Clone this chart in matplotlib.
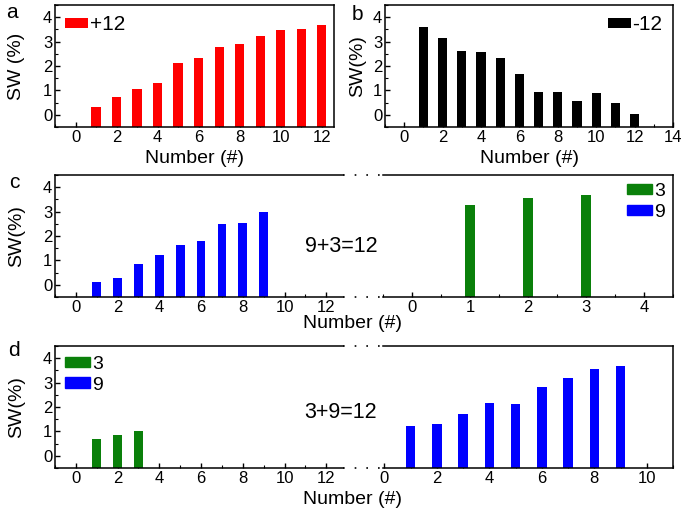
import matplotlib
matplotlib.use('Agg')
import matplotlib.pyplot as plt
from matplotlib.lines import Line2D
from matplotlib.patches import Patch
from matplotlib.ticker import MultipleLocator

plt.rcParams['font.family'] = ['Liberation Sans', 'DejaVu Sans']
plt.rcParams['xtick.direction'] = 'in'
plt.rcParams['ytick.direction'] = 'in'
plt.rcParams['axes.linewidth'] = 1.1

# data
num12 = list(range(1, 13))
sw_plus12 = [0.34, 0.73, 1.05, 1.30, 2.12, 2.32, 2.77, 2.90, 3.22, 3.47, 3.53, 3.70]
sw_minus12 = [3.59, 3.14, 2.63, 2.59, 2.32, 1.66, 0.95, 0.95, 0.55, 0.88, 0.48, 0.02]

num9 = list(range(1, 10))
num3 = [1, 2, 3]
c_sw9 = [0.11, 0.27, 0.87, 1.22, 1.63, 1.80, 2.48, 2.55, 3.00]
c_sw3 = [3.27, 3.54, 3.66]

d_sw3 = [0.67, 0.85, 1.01]
d_sw9 = [1.24, 1.31, 1.70, 2.17, 2.13, 2.82, 3.19, 3.57, 3.66]

red = '#ff0000'
green = '#0a800a'
blue = '#0000ff'
base = -0.5

fig = plt.figure(figsize=(6.85, 5.15), dpi=100)

W, H = 685.0, 515.0
def box(l, r, t, b):
    return [l / W, 1 - b / H, (r - l) / W, (b - t) / H]

ax_a = fig.add_axes(box(55, 334, 5, 127))
ax_b = fig.add_axes(box(385, 673, 5, 127))
ax_c1 = fig.add_axes(box(55, 343, 175, 297))
ax_c2 = fig.add_axes(box(383, 673, 175, 297))
ax_d1 = fig.add_axes(box(55, 343, 346, 468))
ax_d2 = fig.add_axes(box(383, 673, 346, 468))


def bars(ax, x, y, color, width, label):
    ax.bar(x, [v - base for v in y], bottom=base, width=width,
           color=color, label=label)


def style(ax, yticks=True):
    ax.set_ylim(-0.5, 4.5)
    ax.set_axisbelow(True)
    ax.tick_params(labelsize=12, length=3.5, width=1, pad=2)
    ax.tick_params(which='minor', length=2, width=0.8)
    if yticks:
        ax.yaxis.set_major_locator(MultipleLocator(1))
        ax.yaxis.set_minor_locator(MultipleLocator(0.5))
    else:
        ax.set_yticks([])


leg_kw = dict(frameon=False, handletextpad=0.1, borderpad=0.3)
two_handles = [Patch(color=green, label='3'), Patch(color=blue, label='9')]

# a
bars(ax_a, num12, sw_plus12, red, 0.45, '+12')
ax_a.set_xlim(-1, 12.6)
ax_a.xaxis.set_major_locator(MultipleLocator(2))
ax_a.xaxis.set_minor_locator(MultipleLocator(1))
style(ax_a)
ax_a.set_xlabel('Number (#)', fontsize=14, labelpad=4)
ax_a.set_ylabel('SW (%)', fontsize=14, labelpad=13)
ax_a.legend(loc='upper left', fontsize=15, handlelength=1.1, handleheight=0.4,
            borderaxespad=0.2, **leg_kw)

# b
bars(ax_b, num12, sw_minus12, 'black', 0.48, '-12')
ax_b.set_xlim(-1, 14)
ax_b.xaxis.set_major_locator(MultipleLocator(2))
ax_b.xaxis.set_minor_locator(MultipleLocator(1))
style(ax_b)
ax_b.set_xlabel('Number (#)', fontsize=14, labelpad=4)
ax_b.set_ylabel('SW(%)', fontsize=14, labelpad=5)
ax_b.legend(loc='upper right', fontsize=15, handlelength=1.1, handleheight=0.4,
            borderaxespad=0.2, **leg_kw)

# c
bars(ax_c1, num9, c_sw9, blue, 0.42, '9')
ax_c1.set_xlim(-1, 12.8)
ax_c1.xaxis.set_major_locator(MultipleLocator(2))
ax_c1.xaxis.set_minor_locator(MultipleLocator(1))
style(ax_c1)
ax_c1.spines['right'].set_visible(False)
ax_c1.set_ylabel('SW(%)', fontsize=14, labelpad=13)

bars(ax_c2, num3, c_sw3, green, 0.16, '3')
ax_c2.set_xlim(-0.5, 4.5)
ax_c2.xaxis.set_major_locator(MultipleLocator(1))
ax_c2.xaxis.set_minor_locator(MultipleLocator(0.5))
style(ax_c2, yticks=False)
ax_c2.spines['left'].set_visible(False)
ax_c2.legend(handles=two_handles, loc='upper right', fontsize=14,
             handlelength=1.3, handleheight=0.45, borderaxespad=0.1,
             labelspacing=0.2, **leg_kw)

# d
bars(ax_d1, num3, d_sw3, green, 0.42, '3')
ax_d1.set_xlim(-1, 12.8)
ax_d1.xaxis.set_major_locator(MultipleLocator(2))
ax_d1.xaxis.set_minor_locator(MultipleLocator(1))
style(ax_d1)
ax_d1.spines['right'].set_visible(False)
ax_d1.set_ylabel('SW(%)', fontsize=14, labelpad=13)
ax_d1.legend(handles=two_handles, loc='upper left', fontsize=14,
             handlelength=1.3, handleheight=0.45, borderaxespad=0.2,
             labelspacing=0.2, **leg_kw)

bars(ax_d2, num9, d_sw9, blue, 0.36, '9')
ax_d2.set_xlim(-0.05, 11)
ax_d2.xaxis.set_major_locator(MultipleLocator(2))
ax_d2.xaxis.set_minor_locator(MultipleLocator(1))
style(ax_d2, yticks=False)
ax_d2.spines['left'].set_visible(False)

# broken-axis dotted joins
for y in (175, 297, 346, 468):
    fig.add_artist(Line2D([343 / W, 383 / W], [1 - y / H, 1 - y / H],
                          transform=fig.transFigure, color='black', lw=1.2,
                          linestyle=(0, (1, 6))))

fig.text(353 / W, 1 - 324 / H, 'Number (#)', fontsize=14, ha='center', va='center')
fig.text(353 / W, 1 - 500 / H, 'Number (#)', fontsize=14, ha='center', va='center')
fig.text(341 / W, 1 - 247 / H, '9+3=12', fontsize=15.5, ha='center', va='center')
fig.text(341 / W, 1 - 412 / H, '3+9=12', fontsize=15.5, ha='center', va='center')

for s, x, y in [('a', 12, 12), ('b', 357, 15), ('c', 14, 182), ('d', 14, 350)]:
    fig.text(x / W, 1 - y / H, s, fontsize=15, ha='center', va='center')

fig.savefig('out.png', dpi=100)
